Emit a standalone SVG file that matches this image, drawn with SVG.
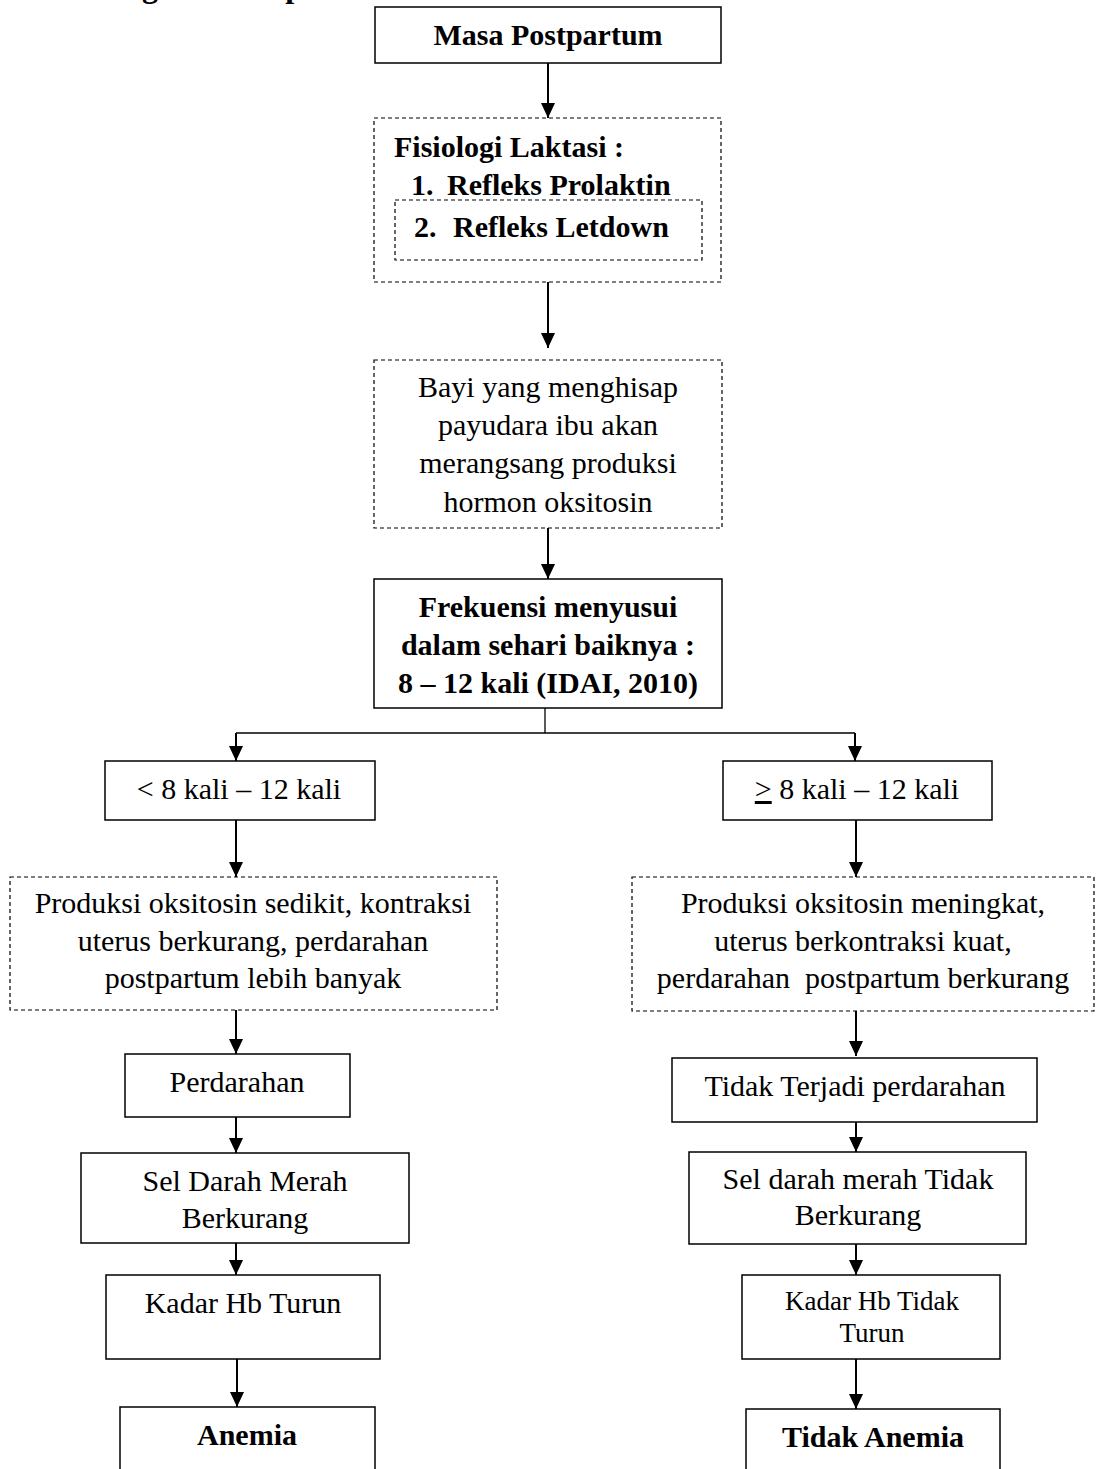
<svg xmlns="http://www.w3.org/2000/svg" width="1098" height="1469" viewBox="0 0 1098 1469">
<style>
text{font-family:"Liberation Serif","Times New Roman",serif;font-size:30px;fill:#000}
.b{font-weight:bold}
.m{text-anchor:middle}
.box{fill:#fff;stroke:#000;stroke-width:1.5}
.dash{fill:#fff;stroke:#000;stroke-width:1.2;stroke-dasharray:4 3}
.arr{stroke:#000;stroke-width:2;fill:none;marker-end:url(#ah)}
.thin{stroke:#000;stroke-width:1.3;fill:none}
</style>
<defs>
<marker id="ah" viewBox="0 0 15 14" refX="15" refY="7" markerWidth="15" markerHeight="14" markerUnits="userSpaceOnUse" orient="auto">
<path d="M0,0 L15,7 L0,14 z" fill="#000"/>
</marker>
</defs>
<rect width="1098" height="1469" fill="#fff"/>
<text class="b" x="55" y="-3" font-size="32" style="font-size:32px">Kerangka Konsep</text>

<g id="connectors">
<line class="arr" x1="548" y1="63" x2="548" y2="118"/>
<line class="arr" x1="548" y1="260" x2="548" y2="348"/>
<line class="arr" x1="548" y1="528" x2="548" y2="579"/>
<line class="thin" x1="545" y1="708" x2="545" y2="733"/>
<line class="thin" x1="236" y1="733" x2="855" y2="733"/>
<line class="arr" x1="236" y1="733" x2="236" y2="761"/>
<line class="arr" x1="855" y1="733" x2="855" y2="761"/>
<line class="arr" x1="236" y1="820" x2="236" y2="877"/>
<line class="arr" x1="236" y1="1010" x2="236" y2="1054"/>
<line class="arr" x1="236" y1="1117" x2="236" y2="1153"/>
<line class="arr" x1="236" y1="1243" x2="236" y2="1275"/>
<line class="arr" x1="237" y1="1359" x2="237" y2="1407"/>
<line class="arr" x1="856" y1="820" x2="856" y2="877"/>
<line class="arr" x1="856" y1="1011" x2="856" y2="1056"/>
<line class="arr" x1="856" y1="1122" x2="856" y2="1152"/>
<line class="arr" x1="856" y1="1244" x2="856" y2="1275"/>
<line class="arr" x1="856" y1="1359" x2="856" y2="1409"/>
</g>

<g id="masa">
<rect class="box" x="375" y="7" width="346" height="56"/>
<text class="b m" x="548" y="45">Masa Postpartum</text>
</g>

<g id="fisiologi">
<rect class="dash" x="374" y="118" width="347" height="164"/>
<text class="b" x="394" y="157">Fisiologi Laktasi :</text>
<text class="b" x="411" y="195">1.</text>
<text class="b" x="447" y="195">Refleks Prolaktin</text>
<g id="letdown">
<rect class="dash" x="395" y="200" width="307" height="60"/>
<text class="b" x="414" y="237">2.</text>
<text class="b" x="453" y="237">Refleks Letdown</text>
</g>
</g>

<g id="bayi">
<rect class="dash" x="374" y="360" width="348" height="168"/>
<text class="m" x="548" y="397">Bayi yang menghisap</text>
<text class="m" x="548" y="435">payudara ibu akan</text>
<text class="m" x="548" y="473">merangsang produksi</text>
<text class="m" x="548" y="512">hormon oksitosin</text>
</g>

<g id="frekuensi">
<rect class="box" x="374" y="579" width="348" height="129"/>
<text class="b m" x="548" y="617">Frekuensi menyusui</text>
<text class="b m" x="548" y="655">dalam sehari baiknya :</text>
<text class="b m" x="548" y="693">8 – 12 kali (IDAI, 2010)</text>
</g>

<g id="kurang8">
<rect class="box" x="105" y="761" width="270" height="59"/>
<text class="m" x="239" y="799">&lt; 8 kali – 12 kali</text>
</g>

<g id="lebih8">
<rect class="box" x="723" y="761" width="269" height="59"/>
<text class="m" x="857" y="799"><tspan text-decoration="underline">&gt;</tspan> 8 kali – 12 kali</text>
</g>

<g id="produksi-sedikit">
<rect class="dash" x="10" y="877" width="487" height="133"/>
<text class="m" x="253" y="913">Produksi oksitosin sedikit, kontraksi</text>
<text class="m" x="253" y="951">uterus berkurang, perdarahan</text>
<text class="m" x="253" y="988">postpartum lebih banyak</text>
</g>

<g id="produksi-meningkat">
<rect class="dash" x="632" y="877" width="462" height="134"/>
<text class="m" x="863" y="913">Produksi oksitosin meningkat,</text>
<text class="m" x="863" y="951">uterus berkontraksi kuat,</text>
<text class="m" x="863" y="988" xml:space="preserve">perdarahan  postpartum berkurang</text>
</g>

<g id="perdarahan">
<rect class="box" x="125" y="1054" width="225" height="63"/>
<text class="m" x="237" y="1092">Perdarahan</text>
</g>

<g id="tidak-perdarahan">
<rect class="box" x="672" y="1058" width="365" height="64"/>
<text class="m" x="855" y="1096">Tidak Terjadi perdarahan</text>
</g>

<g id="sel-kurang">
<rect class="box" x="81" y="1153" width="328" height="90"/>
<text class="m" x="245" y="1191">Sel Darah Merah</text>
<text class="m" x="245" y="1228">Berkurang</text>
</g>

<g id="sel-tidak">
<rect class="box" x="689" y="1152" width="337" height="92"/>
<text class="m" x="858" y="1189">Sel darah merah Tidak</text>
<text class="m" x="858" y="1225">Berkurang</text>
</g>

<g id="hb-turun">
<rect class="box" x="106" y="1275" width="274" height="84"/>
<text class="m" x="243" y="1313">Kadar Hb Turun</text>
</g>

<g id="hb-tidak">
<rect class="box" x="742" y="1275" width="258" height="84"/>
<text class="m" x="872" y="1310" style="font-size:27px">Kadar Hb Tidak</text>
<text class="m" x="872" y="1342" style="font-size:27px">Turun</text>
</g>

<g id="anemia">
<rect class="box" x="120" y="1407" width="255" height="100"/>
<text class="b m" x="247" y="1445">Anemia</text>
</g>

<g id="tidak-anemia">
<rect class="box" x="746" y="1409" width="254" height="100"/>
<text class="b m" x="873" y="1447">Tidak Anemia</text>
</g>
</svg>
